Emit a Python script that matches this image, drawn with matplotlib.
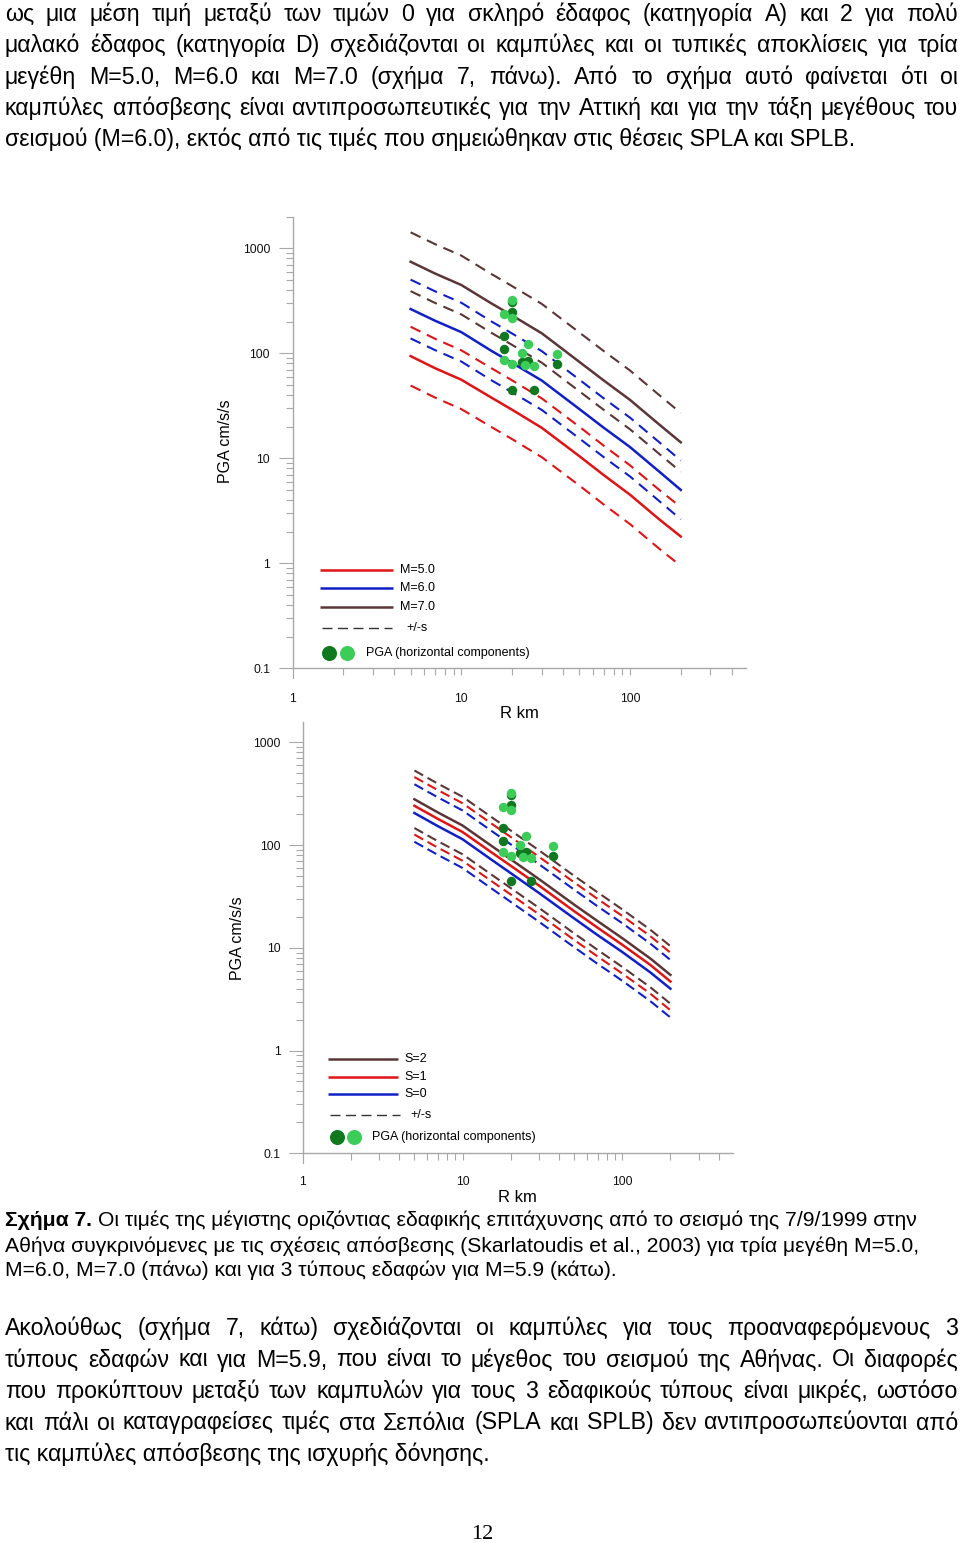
import numpy as np
import matplotlib
matplotlib.use('Agg')
import matplotlib.pyplot as plt
from matplotlib.ticker import FixedLocator, NullFormatter

plt.rcParams['font.family'] = ['Liberation Sans', 'DejaVu Sans']

# ---------------- data ----------------
R_CURVE = [5, 7, 10, 15, 20, 30, 50, 70, 100, 150, 200]          # km
# upper chart: attenuation curves (PGA cm/s/s) for three magnitudes
PGA_M50 = [94, 72, 56, 38, 29, 19.5, 10.5, 6.9, 4.5, 2.6, 1.8]
PGA_M60 = [264, 204, 159, 106, 81, 55, 29.5, 19.5, 12.8, 7.4, 5.0]
PGA_M70 = [745, 574, 447, 300, 229, 155, 83, 55, 36, 20.8, 14.2]
# lower chart: M=5.9, three soil types
PGA_S0 = [205, 153, 114, 73, 53.4, 34.3, 19.3, 13.3, 9.1, 5.75, 4.0]
PGA_S1 = [241, 180, 134, 86, 63, 40.5, 22.7, 15.7, 10.7, 6.8, 4.7]
PGA_S2 = [279, 208, 155, 99.5, 72.8, 46.8, 26.3, 18.2, 12.4, 7.85, 5.45]
SIGMA_LOG10_TOP = 0.28      # +/- s band (log10 units)
SIGMA_LOG10_BOTTOM = 0.28

# observed PGA, horizontal components (two components: dark / light)
OBS_R_DARK = [20, 20, 18, 18, 22.8, 24.8, 36.8, 20, 26.8]
OBS_PGA_DARK = [310, 245, 146, 109, 83, 85, 79, 45, 45]
OBS_R_LIGHT = [20, 18, 20, 24.8, 22.8, 36.8, 18, 20, 23.9, 26.8]
OBS_PGA_LIGHT = [322, 235, 218, 123, 100, 98, 86, 79, 77, 75]

X_TICKS = [1, 10, 100]
X_TICK_LABELS = ['1', '10', '100']
Y_TICKS = [0.1, 1, 10, 100, 1000]
Y_TICK_LABELS = ['0.1', '1', '10', '100', '1000']
LEGEND_TOP = ['M=5.0', 'M=6.0', 'M=7.0']
LEGEND_BOTTOM = ['S=2', 'S=1', 'S=0']
LEGEND_SIGMA = '+/-s'
LEGEND_PTS = 'PGA (horizontal components)'
X_LABEL = 'R km'
Y_LABEL = 'PGA cm/s/s'

PARA1 = [
    "ως μια μέση τιμή μεταξύ των τιμών 0 για σκληρό έδαφος (κατηγορία Α) και 2 για πολύ",
    "μαλακό έδαφος (κατηγορία D) σχεδιάζονται οι καμπύλες και οι τυπικές αποκλίσεις για τρία",
    "μεγέθη M=5.0, M=6.0 και M=7.0 (σχήμα 7, πάνω). Από το σχήμα αυτό φαίνεται ότι οι",
    "καμπύλες απόσβεσης είναι αντιπροσωπευτικές για την Αττική και για την τάξη μεγέθους του",
    "σεισμού (M=6.0), εκτός από τις τιμές που σημειώθηκαν στις θέσεις SPLA και SPLB.",
]
CAPTION_BOLD = "Σχήμα 7."
CAPTION = [
    "Οι τιμές της μέγιστης οριζόντιας εδαφικής επιτάχυνσης από το σεισμό της 7/9/1999 στην",
    "Αθήνα συγκρινόμενες με τις σχέσεις απόσβεσης (Skarlatoudis et al., 2003) για τρία μεγέθη M=5.0,",
    "M=6.0, M=7.0 (πάνω) και για 3 τύπους εδαφών για M=5.9 (κάτω).",
]
PARA2 = [
    "Ακολούθως (σχήμα 7, κάτω) σχεδιάζονται οι καμπύλες για τους προαναφερόμενους 3",
    "τύπους εδαφών και για M=5.9, που είναι το μέγεθος του σεισμού της Αθήνας. Οι διαφορές",
    "που προκύπτουν μεταξύ των καμπυλών για τους 3 εδαφικούς τύπους είναι μικρές, ωστόσο",
    "και πάλι οι καταγραφείσες τιμές στα Σεπόλια (SPLA και SPLB) δεν αντιπροσωπεύονται από",
    "τις καμπύλες απόσβεσης της ισχυρής δόνησης.",
]
PAGE_NO = "12"

# ---------------- style ----------------
RED = '#e01414'
BLUE = '#1020c8'
BROWN = '#5c3636'
DARK_G = '#10781e'
LIGHT_G = '#3ccc58'
AX_COL = '#a8a8a8'

W, H = 960, 1543
fig = plt.figure(figsize=(W / 100, H / 100), dpi=100)


def add_ax(x0, x1, ytop, ybot):
    return fig.add_axes([x0 / W, 1 - ybot / H, (x1 - x0) / W, (ybot - ytop) / H])


def style_axis(ax, ytop_val, xpad, ypad):
    ax.set_xscale('log')
    ax.set_yscale('log')
    ax.set_xlim(1, 490)
    ax.set_ylim(0.1, ytop_val)
    ax.patch.set_alpha(0)
    for s in ['top', 'right']:
        ax.spines[s].set_visible(False)
    for s in ['left', 'bottom']:
        ax.spines[s].set_color(AX_COL)
        ax.spines[s].set_linewidth(1.0)
    ax.xaxis.set_major_locator(FixedLocator(X_TICKS))
    ax.set_xticklabels(X_TICK_LABELS)
    ax.xaxis.set_minor_locator(FixedLocator(
        [2, 3, 4, 5, 6, 7, 8, 9, 20, 30, 40, 50, 60, 70, 80, 90, 200, 300, 400]))
    ax.xaxis.set_minor_formatter(NullFormatter())
    ax.yaxis.set_major_locator(FixedLocator(Y_TICKS))
    ax.set_yticklabels(Y_TICK_LABELS)
    ax.yaxis.set_minor_locator(FixedLocator(
        [k * 10.0 ** e for e in range(-1, 4) for k in range(2, 10)]))
    ax.yaxis.set_minor_formatter(NullFormatter())
    ax.tick_params(axis='y', which='major', length=10, width=0.8, color=AX_COL,
                   pad=ypad, labelsize=8.7, labelcolor='#111')
    ax.tick_params(axis='y', which='minor', length=5.4, width=0.8, color=AX_COL)
    ax.tick_params(axis='x', which='major', length=5, width=0.8, color=AX_COL,
                   pad=xpad, labelsize=8.7, labelcolor='#111')
    ax.tick_params(axis='x', which='minor', length=5, width=0.8, color=AX_COL)
    # longer tick at the origin
    ax.plot([1, 1], [0, -10 / (ax.bbox.height)], color=AX_COL, lw=0.8,
            transform=ax.get_xaxis_transform(), clip_on=False)


def draw_curves(ax, series, colors, sigma, dash):
    r = np.array(R_CURVE, dtype=float)
    f = 10 ** sigma
    for vals, c in zip(series, colors):
        v = np.array(vals, dtype=float)
        for k in (f, 1 / f):
            ax.plot(r, v * k, color=c, lw=1.5, dashes=dash, zorder=2)
        ax.plot(r, v, color=c, lw=1.8, zorder=3)


def draw_points(ax):
    ax.plot(OBS_R_DARK, OBS_PGA_DARK, 'o', color=DARK_G, ms=6.8, mew=0, zorder=5)
    ax.plot(OBS_R_LIGHT, OBS_PGA_LIGHT, 'o', color=LIGHT_G, ms=6.8, mew=0, zorder=6)


# ---------- upper chart ----------
ax1 = add_ax(292.7, 292.7 + np.log10(490) * 168.65, 248.3 - np.log10(2) * 105, 668.3)
style_axis(ax1, 2000, xpad=13.0, ypad=6.3)
draw_curves(ax1, [PGA_M50, PGA_M60, PGA_M70], [RED, BLUE, BROWN], SIGMA_LOG10_TOP, (5.3, 3.4))
draw_points(ax1)

# ---------- lower chart ----------
ax2 = add_ax(302.7, 302.7 + np.log10(490) * 159.8, 742.3 - np.log10(1.57) * 102.75, 1153.3)
style_axis(ax2, 1570, xpad=11.5, ypad=5.8)
draw_curves(ax2, [PGA_S0, PGA_S1, PGA_S2], [BLUE, RED, BROWN], SIGMA_LOG10_BOTTOM, (4.8, 2.4))
draw_points(ax2)

# ---------- page overlay (text, legends) ----------
page = fig.add_axes([0, 0, 1, 1], zorder=10)
page.set_xlim(0, W)
page.set_ylim(H, 0)
page.axis('off')
page.patch.set_alpha(0)

renderer = fig.canvas.get_renderer()


def measure(s, fs, weight='normal', family=None):
    kw = {} if family is None else {'family': family}
    t = page.text(0, 0, s, fontsize=fs, weight=weight, **kw)
    w = t.get_window_extent(renderer).width
    t.remove()
    return w


def justified(line, y, fs, x0=5, x1=958):
    words = line.split(' ')
    widths = [measure(w, fs) for w in words]
    gap = (x1 - x0 - sum(widths)) / (len(words) - 1)
    x = x0
    for w, wd in zip(words, widths):
        page.text(x, y, w, fontsize=fs, va='baseline', ha='left', color='black')
        x += wd + gap


fs_body = 12 * (858 - 5) / measure(PARA1[-1], 12)
fs_cap = 12 * (617 - 5) / measure(CAPTION[-1], 12)

for i, line in enumerate(PARA1):
    y = 21 + 31.3 * i
    if i < len(PARA1) - 1:
        justified(line, y, fs_body)
    else:
        page.text(5, y, line, fontsize=fs_body, va='baseline', ha='left')

for i, line in enumerate(PARA2):
    y = 1335 + 31.5 * i
    if i < len(PARA2) - 1:
        justified(line, y, fs_body)
    else:
        page.text(5, y, line, fontsize=fs_body, va='baseline', ha='left')

space = measure('x x', fs_cap) - measure('xx', fs_cap)
bw = measure(CAPTION_BOLD, fs_cap, weight='bold')
page.text(5, 1226.5, CAPTION_BOLD, fontsize=fs_cap, weight='bold', va='baseline')
page.text(5 + bw + space, 1226.5, CAPTION[0], fontsize=fs_cap, va='baseline')
page.text(5, 1251.5, CAPTION[1], fontsize=fs_cap, va='baseline')
page.text(5, 1276.5, CAPTION[2], fontsize=fs_cap, va='baseline')

page.text(482, 1539, PAGE_NO, fontsize=16, family='Liberation Serif',
          ha='center', va='baseline')

# axis labels
page.text(519, 714, X_LABEL, fontsize=12, ha='center', va='center')
page.text(517, 1197, X_LABEL, fontsize=12, ha='center', va='center')
page.text(226, 441, Y_LABEL, fontsize=11.5, ha='center', va='center', rotation=90)
page.text(238, 938, Y_LABEL, fontsize=11.5, ha='center', va='center', rotation=90)


def legend(x0, x1, ys, labels, colors, lab_x, sig_y, sig_x, dots_y, dot_x1, dot_x2, pga_x):
    for y, lab, c in zip(ys, labels, colors):
        page.plot([x0, x1], [y, y], color=c, lw=1.8, solid_capstyle='butt')
        page.text(lab_x, y, lab, fontsize=9, va='center', ha='left')
    page.plot([x0 + 2, x0 + 72], [sig_y, sig_y], color='#333333', lw=1.0,
              dashes=(7.2, 3.96), dash_capstyle='butt')
    page.text(sig_x, sig_y, LEGEND_SIGMA, fontsize=9, va='center', ha='left')
    page.plot([dot_x1], [dots_y], 'o', color=DARK_G, ms=10.8, mew=0)
    page.plot([dot_x2], [dots_y], 'o', color=LIGHT_G, ms=10.8, mew=0)
    page.text(pga_x, dots_y, LEGEND_PTS, fontsize=9, va='center', ha='left')


legend(320, 393, [570, 588.3, 606.7], LEGEND_TOP, [RED, BLUE, BROWN],
       400, 628.3, 406.7, 653.3, 329, 347.3, 366)
legend(328.3, 398.3, [1059.3, 1077, 1094.3], LEGEND_BOTTOM, [BROWN, RED, BLUE],
       404, 1115, 410, 1137.3, 337.3, 354, 371.7)

fig.savefig('out.png', dpi=100)
